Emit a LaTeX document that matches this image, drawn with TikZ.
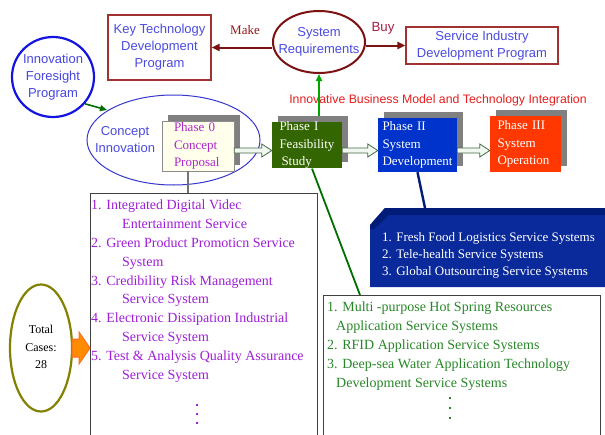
\documentclass[tikz,border=0pt]{standalone}
\usepackage{fontspec}
\setmainfont{Liberation Serif}
\setsansfont{Liberation Sans}
\usetikzlibrary{arrows.meta,shadows,calc,shapes.geometric}
\definecolor{darkred}{RGB}{125,18,18}
\definecolor{boxred}{RGB}{160,50,50}
\definecolor{makered}{RGB}{145,25,25}
\definecolor{buyred}{RGB}{165,30,70}
\definecolor{txtblue}{RGB}{75,75,225}
\definecolor{brightblue}{RGB}{20,20,225}
\definecolor{ellblue}{RGB}{55,55,205}
\definecolor{ph0fill}{RGB}{255,255,235}
\definecolor{ph0txt}{RGB}{175,40,205}
\definecolor{ph1green}{RGB}{51,102,0}
\definecolor{ph2blue}{RGB}{0,51,204}
\definecolor{ph3red}{RGB}{255,55,0}
\definecolor{arrgreen}{RGB}{0,165,0}
\definecolor{lineg}{RGB}{0,110,0}
\definecolor{listpurple}{RGB}{160,30,215}
\definecolor{listgreen}{RGB}{40,135,40}
\definecolor{navymain}{RGB}{10,42,155}
\definecolor{navytop}{RGB}{0,28,120}
\definecolor{olivec}{RGB}{130,130,0}
\definecolor{txtred}{RGB}{230,30,30}
\definecolor{shadowgray}{RGB}{128,128,128}
\definecolor{hollowgreen}{RGB}{70,105,70}
\definecolor{hollowfill}{RGB}{240,248,240}
\definecolor{orangefill}{RGB}{255,140,0}
\definecolor{orangeline}{RGB}{255,110,30}
\tikzset{
  progbox/.style={draw=boxred, line width=1.1pt, font=\sffamily\fontsize{13}{17}\selectfont, text=txtblue, align=center, inner sep=0pt},
  sanslbl/.style={font=\sffamily\fontsize{13}{17}\selectfont, text=txtblue, align=center, inner sep=0pt},
  phasebox/.style={inner sep=0pt, align=left, font=\fontsize{13}{17.5}\selectfont,
     drop shadow={shadow xshift=6pt, shadow yshift=6pt, fill=shadowgray, opacity=1}},
  redarrow/.style={draw=darkred, line width=2pt, -{Triangle[length=8pt,width=7pt]}},
  greenarrow/.style={draw=arrgreen, line width=1.6pt, -{Triangle[length=7pt,width=6pt]}},
  hollow/.style={draw=hollowgreen, fill=hollowfill, line width=0.8pt},
  listbox/.style={draw=black!75, line width=1.2pt, inner sep=0pt},
  listtext/.style={anchor=north west, align=left, inner sep=0pt},
  dotmark/.style={minimum size=2.6pt, inner sep=0pt},
}
\newcommand{\hollowarr}[2]{%
  \draw[hollow] let \p1=(#1), \p2=(#2) in
    (\x1,\y1-2.5pt) -- (\x2-10pt,\y1-2.5pt) -- (\x2-10pt,\y1-6.5pt) -- (\x2,\y1)
    -- (\x2-10pt,\y1+6.5pt) -- (\x2-10pt,\y1+2.5pt) -- (\x1,\y1+2.5pt) -- cycle;}
\begin{document}
\begin{tikzpicture}[x=1pt,y=-1pt]
\fill[white] (0,0) rectangle (605,434);
\clip (0,0) rectangle (605,434);

% top row
\node[progbox, minimum width=103pt, minimum height=65pt] (ktd) at (159.5,47.5) {Key Technology\\Development\\Program};
\node[ellipse, draw=darkred, line width=2pt, minimum width=92pt, minimum height=62pt, inner sep=0pt] (sysreq) at (319,42) {};
\node[sanslbl] (sysreqtxt) at (319,42) {System\\Requirements};
\node[progbox, minimum width=152pt, minimum height=37pt] (sidp) at (482,45.5) {Service Industry\\Development Program};
\node[font=\fontsize{13}{15}\selectfont, text=makered, inner sep=0pt] (make) at (245,30) {Make};
\node[font=\sffamily\fontsize{13.3}{15}\selectfont, text=buyred, inner sep=0pt] (buy) at (383,28) {Buy};
\draw[redarrow] (ktd.east -| sysreq.west) -- (ktd.east);
\draw[redarrow] (sidp.west -| sysreq.east) -- (sidp.west);

% innovation foresight
\node[ellipse, draw=brightblue, line width=2.2pt, minimum width=82pt, minimum height=80pt, inner sep=0pt] (ifp) at (53,77) {};
\node[sanslbl, text={rgb,255:red,70;green,70;blue,225}] (ifptxt) at (53,77) {Innovation\\Foresight\\Program};

% concept ellipse
\node[ellipse, draw=ellblue, line width=1pt, minimum width=173pt, minimum height=90pt, inner sep=0pt] (concept) at (173.5,140) {};
\node[sanslbl] (concepttxt) at (125,140) {Concept\\Innovation};
\coordinate (ctip) at (107,110);
\draw[draw=lineg, line width=1.6pt, -{Triangle[length=7pt,width=6pt]}] (ifp.-40) -- (ctip);

% red title
\node[font=\sffamily\fontsize{12.3}{14}\selectfont, text=txtred, inner sep=0pt] (title) at (438,100) {Innovative Business Model and Technology Integration};

% phases
\node[phasebox, draw=black!45, line width=0.6pt, fill=ph0fill, text=ph0txt, minimum width=72pt, minimum height=50pt, text width=48pt] (p0) at (198,146) {Phase 0\\Concept\\Proposal};
\node[phasebox, fill=ph1green, text=white, minimum width=70pt, minimum height=46pt, text width=55pt] (p1) at (307,145) {Phase I\\Feasibility\\\hspace*{2pt}Study};
\node[phasebox, fill=ph2blue, text=white, minimum width=79pt, minimum height=54pt, text width=70pt] (p2) at (417.5,145) {Phase II\\System\\Development};
\node[phasebox, fill=ph3red, text=white, minimum width=71pt, minimum height=56pt, text width=56pt] (p3) at (525.5,144) {Phase III\\System\\Operation};

\coordinate (a0) at (p0.east |- 0,150.5);
\coordinate (a1) at (p1.west |- 0,150.5);
\coordinate (b0) at (p1.east |- 0,150.5);
\coordinate (b1) at (p2.west |- 0,150.5);
\coordinate (c0) at (p2.east |- 0,150.5);
\coordinate (c1) at (p3.west |- 0,150.5);
\hollowarr{a0}{a1}
\hollowarr{b0}{b1}
\hollowarr{c0}{c1}

% phase I to system requirements
\coordinate (p1top) at (sysreq.south |- 0,116);
\draw[greenarrow] (p1top) -- (sysreq.south);

% purple list
\node[listbox, minimum width=227pt, minimum height=260pt, anchor=north west] (plist) at (90,193) {};
\draw[draw=black!55, line width=1.2pt] (p0.south -| 188,0) -- (plist.north -| 188,0);
\node[listtext, text=listpurple, font=\fontsize{14}{18.9}\selectfont] (ptext) at (91,199.5) {%
1. Integrated Digital Videc\\
\hspace*{31pt}Entertainment Service\\
2. Green Product Promoticn Service\\
\hspace*{31pt}System\\
3. Credibility Risk Management\\
\hspace*{31pt}Service System\\
4. Electronic Dissipation Industrial\\
\hspace*{31pt}Service System\\
5. Test \& Analysis Quality Assurance\\
\hspace*{31pt}Service System};
\node[dotmark, fill=listpurple] (pd1) at (197,405) {};
\node[dotmark, fill=listpurple] (pd2) at (197,414) {};
\node[dotmark, fill=listpurple] (pd3) at (197,423) {};

% total cases
\node[ellipse, draw=olivec, line width=2.2pt, minimum width=62pt, minimum height=127pt, inner sep=0pt] (total) at (41,348) {};
\node[font=\fontsize{12}{17.5}\selectfont, align=center, inner sep=0pt] (totaltxt) at (41,347) {Total\\Cases:\\28};
\draw[fill=orangefill, draw=orangeline, line width=1pt]
  let \p1=(total.east), \p2=(plist.west |- total.east) in
  (\x1-1pt,\y1-9pt) -- (\x2-11pt,\y1-9pt) -- (\x2-11pt,\y1-16pt) -- (\x2,\y1)
  -- (\x2-11pt,\y1+16pt) -- (\x2-11pt,\y1+9pt) -- (\x1-1pt,\y1+9pt) -- cycle;

% blue list
\fill[navymain, rounded corners=4pt] (370,287) -- (370,225) [sharp corners] -- (385,208) -- (615,208) -- (615,287) -- cycle;
\fill[navytop] (370,225) -- (385,208) -- (615,208) -- (615,215) -- (389,215) -- (374,229) -- (370,229) -- cycle;
\coordinate (bluetop) at (425,208);
\draw[draw=navytop, line width=2.4pt] (p2.south) -- (bluetop);
\node[listtext, text=white, font=\fontsize{13}{17}\selectfont] (btext) at (382,232.5) {%
1. Fresh Food Logistics Service Systems\\
2. Tele-health Service Systems\\
3. Global Outsourcing Service Systems};

% green list
\node[listbox, minimum width=277pt, minimum height=160pt, anchor=north west] (glist) at (323,295) {};
\draw[draw=lineg, line width=1.8pt] ([xshift=5pt]p1.south) -- ([xshift=37pt]glist.north west);
\node[listtext, text=listgreen, font=\fontsize{14}{18.8}\selectfont] (gtext) at (327,302) {%
1. Multi -purpose Hot Spring Resources\\
\hspace*{9pt}Application Service Systems\\
2. RFID Application Service Systems\\
3. Deep-sea Water Application Technology\\
\hspace*{9pt}Development Service Systems};
\node[dotmark, fill=listgreen] (gd1) at (450,398) {};
\node[dotmark, fill=listgreen] (gd2) at (450,408) {};
\node[dotmark, fill=listgreen] (gd3) at (450,418) {};
\end{tikzpicture}
\end{document}
